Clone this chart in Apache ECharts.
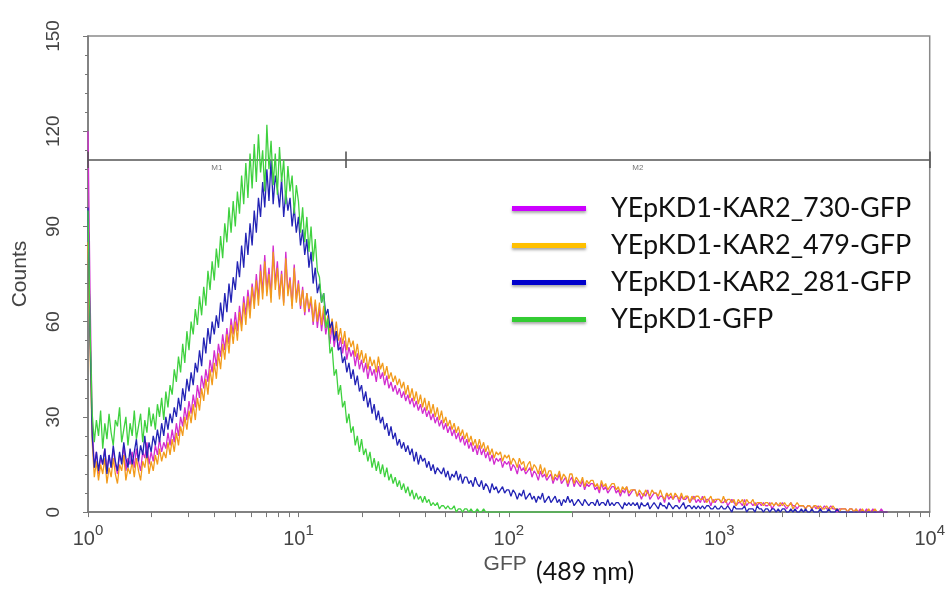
<!DOCTYPE html>
<html>
<head>
<meta charset="utf-8">
<title>GFP histogram</title>
<script src="https://cdn.jsdelivr.net/npm/echarts@6/dist/echarts.min.js"></script>
<style>
  html, body { margin: 0; padding: 0; background: #fff; }
  #chart { width: 948px; height: 589px; }
</style>
</head>
<body>
<div id="chart"></div>
<script>
// channels: 100 per decade, channel 0 = 10^0, channel 400 = 10^4
const CH_PER_DECADE = 100
const decades = [0, 1, 2, 3, 4]
const minorMultipliers = [2, 3, 4, 5, 6, 7, 8, 9]

const seriesNames = ['YEpKD1-KAR2_730-GFP', 'YEpKD1-KAR2_479-GFP', 'YEpKD1-KAR2_281-GFP', 'YEpKD1-GFP']

// counts per channel
const counts730 = [
  120, 68, 28, 14, 19, 12, 17, 15, 20, 13,
  18, 14, 20, 15, 12, 18, 16, 21, 13, 17,
  15, 19, 14, 20, 16, 13, 19, 17, 22, 15,
  19, 16, 21, 18, 23, 19, 22, 20, 25, 21,
  26, 22, 28, 24, 30, 27, 33, 29, 35, 31,
  37, 33, 40, 36, 43, 39, 45, 41, 48, 44,
  51, 46, 53, 49, 56, 51, 58, 53, 61, 56,
  63, 57, 65, 59, 68, 62, 70, 64, 72, 66,
  75, 67, 78, 69, 81, 70, 77, 68, 84, 72,
  79, 68, 76, 66, 82, 69, 74, 65, 78, 67,
  73, 64, 71, 62, 69, 63, 67, 59, 66, 58,
  64, 57, 63, 56, 60, 53, 59, 52, 57, 51,
  55, 50, 54, 48, 52, 49, 51, 46, 50, 45,
  48, 44, 47, 42, 46, 43, 45, 41, 46, 42,
  44, 40, 43, 39, 41, 38, 40, 37, 39, 36,
  38, 35, 37, 34, 36, 33, 35, 32, 34, 31,
  33, 30, 32, 29, 31, 28, 30, 27, 29, 26,
  28, 25, 27, 24, 26, 23, 25, 22, 24, 21,
  23, 20, 22, 19, 21, 18, 21, 18, 20, 17,
  19, 16, 18, 15, 17, 16, 17, 14, 16, 15,
  16, 13, 15, 14, 12, 15, 13, 14, 12, 13,
  14, 11, 13, 12, 10, 13, 11, 12, 10, 11,
  12, 9, 11, 10, 12, 9, 10, 11, 8, 10,
  11, 8, 10, 9, 8, 10, 7, 9, 8, 9,
  9, 7, 8, 6, 9, 7, 8, 6, 7, 8,
  8, 6, 7, 5, 7, 6, 8, 5, 6, 7,
  7, 5, 6, 4, 6, 5, 7, 4, 5, 6,
  6, 4, 5, 5, 3, 6, 4, 5, 4, 5,
  5, 3, 5, 4, 4, 5, 3, 4, 5, 3,
  4, 3, 5, 3, 4, 4, 2, 4, 3, 4,
  4, 3, 3, 4, 2, 3, 4, 3, 2, 3,
  3, 2, 4, 2, 3, 3, 2, 3, 2, 3,
  2, 3, 2, 2, 3, 1, 2, 3, 2, 2,
  3, 2, 1, 2, 3, 2, 2, 1, 2, 2,
  2, 1, 2, 2, 1, 2, 1, 2, 1, 1,
  2, 1, 1, 2, 1, 1, 0, 1, 1, 1,
  1, 0, 1, 1, 0, 1, 0, 1, 0, 0,
  1, 0, 0, 1, 0, 0, 0, 1, 0, 0,
  0
]

const counts479 = [
  85, 50, 22, 11, 16, 10, 15, 12, 17, 9,
  14, 11, 17, 12, 9, 15, 13, 18, 10, 14,
  12, 16, 11, 17, 13, 10, 16, 14, 19, 12,
  16, 13, 18, 15, 20, 16, 19, 17, 22, 18,
  23, 19, 25, 21, 27, 24, 30, 26, 32, 28,
  34, 29, 36, 32, 39, 35, 42, 37, 45, 40,
  47, 42, 50, 45, 53, 48, 56, 50, 59, 53,
  60, 54, 63, 57, 66, 59, 68, 61, 71, 64,
  73, 65, 76, 67, 79, 68, 75, 66, 82, 70,
  77, 67, 75, 65, 80, 68, 73, 64, 77, 66,
  72, 65, 70, 63, 69, 64, 68, 60, 67, 60,
  66, 59, 65, 58, 62, 56, 61, 55, 60, 54,
  58, 53, 57, 51, 55, 52, 54, 49, 53, 48,
  51, 47, 50, 45, 49, 46, 48, 44, 49, 45,
  47, 43, 46, 42, 44, 41, 43, 40, 42, 39,
  41, 37, 40, 36, 39, 35, 38, 34, 37, 33,
  36, 32, 35, 31, 34, 30, 33, 29, 32, 28,
  30, 27, 29, 26, 28, 25, 27, 24, 26, 23,
  25, 22, 24, 21, 23, 20, 23, 20, 22, 19,
  21, 18, 20, 17, 19, 18, 19, 16, 18, 17,
  18, 15, 17, 16, 14, 17, 15, 16, 13, 15,
  16, 13, 15, 14, 12, 15, 12, 14, 11, 13,
  13, 10, 12, 11, 13, 10, 12, 11, 9, 12,
  12, 9, 11, 10, 9, 11, 8, 10, 9, 10,
  10, 8, 9, 7, 10, 8, 9, 7, 8, 9,
  9, 7, 8, 6, 8, 7, 8, 6, 7, 7,
  7, 5, 7, 6, 5, 7, 6, 5, 7, 6,
  6, 5, 7, 5, 4, 6, 5, 6, 4, 6,
  5, 4, 6, 4, 5, 5, 3, 5, 4, 5,
  5, 4, 4, 5, 3, 4, 5, 3, 4, 4,
  4, 3, 5, 3, 4, 4, 3, 4, 2, 4,
  3, 4, 2, 4, 3, 3, 4, 2, 3, 3,
  3, 2, 3, 3, 2, 3, 2, 3, 2, 3,
  2, 3, 2, 2, 3, 1, 2, 3, 2, 2,
  2, 1, 2, 2, 1, 2, 2, 1, 2, 1,
  1, 2, 1, 1, 2, 1, 1, 0, 1, 1,
  1, 0, 1, 1, 0, 1, 0, 0, 1, 0,
  0, 1, 0, 0, 1, 0, 0, 0, 0, 0,
  0
]

const counts281 = [
  96, 55, 24, 14, 19, 13, 18, 15, 20, 12,
  18, 14, 21, 16, 13, 19, 15, 22, 17, 14,
  20, 15, 19, 23, 16, 21, 18, 24, 17, 22,
  19, 24, 21, 26, 22, 28, 24, 30, 26, 31,
  28, 33, 30, 36, 32, 39, 35, 42, 38, 44,
  40, 47, 44, 51, 46, 55, 50, 58, 53, 60,
  56, 62, 58, 66, 60, 69, 63, 72, 66, 74,
  70, 79, 74, 84, 77, 88, 81, 91, 84, 95,
  88, 99, 93, 104, 96, 108, 98, 111, 97, 106,
  102, 96, 105, 93, 101, 95, 99, 90, 96, 88,
  93, 84, 89, 81, 86, 77, 82, 72, 77, 69,
  72, 66, 69, 62, 64, 58, 60, 54, 57, 51,
  52, 47, 49, 44, 47, 42, 45, 40, 43, 38,
  40, 35, 38, 33, 36, 31, 34, 29, 32, 28,
  30, 26, 28, 24, 27, 23, 25, 21, 23, 20,
  22, 19, 21, 18, 20, 16, 19, 15, 18, 16,
  17, 14, 16, 13, 15, 12, 14, 13, 12, 14,
  11, 13, 10, 12, 11, 13, 10, 12, 9, 11,
  11, 9, 10, 8, 11, 9, 8, 10, 7, 9,
  8, 6, 9, 7, 8, 6, 7, 8, 6, 7,
  7, 5, 7, 6, 4, 6, 5, 7, 4, 5,
  6, 4, 5, 3, 5, 4, 6, 3, 4, 5,
  3, 4, 5, 3, 4, 2, 4, 3, 5, 3,
  4, 2, 3, 4, 3, 2, 4, 3, 2, 3,
  3, 2, 4, 2, 3, 3, 2, 4, 2, 3,
  2, 3, 3, 2, 1, 3, 2, 3, 2, 3,
  2, 3, 1, 3, 2, 2, 3, 1, 2, 3,
  2, 1, 3, 2, 2, 1, 3, 2, 1, 2,
  2, 1, 2, 3, 1, 2, 2, 1, 2, 1,
  2, 1, 2, 1, 2, 2, 1, 1, 2, 1,
  1, 2, 1, 1, 2, 1, 0, 2, 1, 1,
  1, 1, 2, 0, 1, 1, 1, 0, 2, 1,
  1, 0, 1, 1, 0, 1, 1, 0, 1, 0,
  1, 1, 0, 0, 1, 0, 1, 0, 0, 1,
  0, 1, 0, 0, 1, 0, 0, 0, 1, 0,
  0, 0, 1, 0, 0, 0, 1, 0, 0, 0,
  0, 0, 0, 0, 0, 0, 0, 0, 0, 0,
  0, 0, 0, 0, 0, 0, 0, 0, 0, 0,
  0
]

const countsGFP = [
  95, 58, 31, 22, 29, 24, 32, 20, 28, 23,
  31, 25, 21, 29, 27, 33, 22, 26, 30, 21,
  28, 24, 32, 23, 27, 31, 22, 29, 25, 33,
  27, 31, 26, 34, 30, 36, 29, 38, 33, 40,
  37, 45, 41, 49, 44, 53, 47, 57, 51, 60,
  56, 64, 59, 68, 62, 71, 65, 76, 70, 79,
  73, 83, 77, 87, 80, 91, 85, 96, 88, 98,
  90, 101, 94, 106, 97, 110, 99, 113, 102, 116,
  104, 119, 107, 114, 101, 122, 108, 117, 103, 113,
  100, 115, 104, 111, 97, 109, 101, 106, 94, 103,
  98, 88, 96, 85, 93, 82, 90, 79, 86, 76,
  74, 66, 69, 58, 61, 50, 52, 43, 45, 37,
  40, 33, 35, 28, 31, 25, 27, 21, 24, 19,
  23, 18, 20, 16, 19, 14, 17, 13, 16, 12,
  15, 11, 14, 10, 12, 9, 11, 8, 10, 7,
  9, 6, 8, 5, 7, 4, 6, 4, 5, 3,
  5, 3, 4, 2, 3, 2, 3, 1, 2, 2,
  1, 2, 1, 1, 2, 0, 1, 1, 0, 1,
  1, 0, 1, 0, 0, 1, 0, 0, 1, 0,
  0, 0, 0, 0, 0, 0, 0, 0, 0, 0,
  0, 0, 0, 0, 0, 0, 0, 0, 0, 0,
  0, 0, 0, 0, 0, 0, 0, 0, 0, 0,
  0, 0, 0, 0, 0, 0, 0, 0, 0, 0,
  0
]

// gates (GFP units) and the count level they are drawn at
const gateM1 = [1, 16.8]
const gateM2 = [16.8, 10000]
const gateLevel = 111

const toCh = (v) => CH_PER_DECADE * Math.log10(v)

const majorTicks = decades.map((d) => d * CH_PER_DECADE)
const allTicks = majorTicks.slice()
decades.slice(0, 4).forEach((d) => {
  minorMultipliers.forEach((m) => allTicks.push(toCh(m * Math.pow(10, d))))
})

const chart = echarts.init(document.getElementById('chart'))

const lineColors = ['#d22ccf', '#f29b1c', '#2323b5', '#3fd13f']
const legendColors = ['#cc00ff', '#ffc000', '#0000cc', '#33cc33']
const allCounts = [counts730, counts479, counts281, countsGFP]

function gateLine(gate, name) {
  const a = toCh(gate[0])
  const b = toCh(gate[1])
  return [
    [{ coord: [a, gateLevel], name: name }, { coord: [b, gateLevel] }],
    [{ coord: [b, gateLevel - 2.6], label: { show: false } }, { coord: [b, gateLevel + 2.6] }]
  ]
}

// drawing order: yellow, magenta, blue, green on top
const drawOrder = [1, 0, 2, 3]
const series = drawOrder.map((k) => ({
  name: seriesNames[k],
  type: 'line',
  data: allCounts[k].map((y, i) => [i, y]),
  symbol: 'none',
  lineStyle: { width: 1.3, color: lineColors[k] },
  itemStyle: { color: lineColors[k] },
  z: 2 + k
}))

// gate markers
series.push({
  name: 'gates',
  type: 'line',
  data: [],
  silent: true,
  markLine: {
    symbol: ['none', 'none'],
    silent: true,
    lineStyle: { color: '#555', width: 1.6, type: 'solid' },
    label: {
      show: true,
      position: 'insideMiddleBottom',
      formatter: '{b}',
      fontSize: 8,
      color: '#777',
      distance: 4
    },
    data: [
      ...gateLine(gateM1, 'M1'),
      ...gateLine(gateM2, 'M2'),
      [{ coord: [toCh(gateM1[0]), gateLevel - 2.6], label: { show: false } }, { coord: [toCh(gateM1[0]), gateLevel + 2.6] }]
    ]
  },
  z: 10
})

const option = {
  animation: false,
  backgroundColor: '#fff',
  grid: {
    left: 88,
    right: 18,
    top: 36,
    bottom: 76,
    show: true,
    borderColor: '#8a8a8a',
    borderWidth: 1.5
  },
  legend: {
    orient: 'vertical',
    left: 507,
    top: 190,
    icon: 'rect',
    itemWidth: 74,
    itemHeight: 5,
    itemGap: 10,
    data: seriesNames.map((n, k) => ({
      name: n,
      itemStyle: {
        color: legendColors[k],
        shadowColor: 'rgba(0,0,0,0.35)',
        shadowBlur: 3,
        shadowOffsetY: 2
      }
    })),
    textStyle: {
      fontFamily: 'Lato',
      fontSize: 27,
      color: '#111',
      lineHeight: 27,
      padding: [0, 0, 0, 20]
    }
  },
  xAxis: {
    type: 'value',
    min: 0,
    max: 400,
    name: '{g|GFP} {u|(489 ηm)}',
    nameLocation: 'middle',
    nameGap: 37,
    nameTextStyle: {
      padding: [0, 0, 0, 100],
      rich: {
        g: { fontFamily: 'Liberation Sans', fontSize: 21, color: '#555', padding: [0, 6, 14, 0] },
        u: { fontFamily: 'Lato', fontSize: 25, color: '#111' }
      }
    },
    splitLine: { show: false },
    axisLine: { lineStyle: { color: '#777', width: 1.5 } },
    axisTick: { show: true, length: 5, customValues: allTicks, lineStyle: { color: '#777' } },
    axisLabel: {
      customValues: majorTicks,
      margin: 11,
      formatter: (v) => '{b|10}{s|' + Math.round(v / CH_PER_DECADE) + '}',
      rich: {
        b: { fontFamily: 'Liberation Sans', fontSize: 20, color: '#444', lineHeight: 26, verticalAlign: 'bottom' },
        s: { fontFamily: 'Liberation Sans', fontSize: 15, color: '#444', verticalAlign: 'top', lineHeight: 26 }
      }
    }
  },
  yAxis: {
    type: 'value',
    min: 0,
    max: 150,
    interval: 30,
    offset: 7,
    name: 'Counts',
    nameLocation: 'middle',
    nameGap: 50,
    nameTextStyle: { fontFamily: 'Liberation Sans', fontSize: 21, color: '#444' },
    splitLine: { show: false },
    axisLine: { show: true, lineStyle: { color: '#777', width: 1.5 } },
    axisTick: { show: true, length: 5, lineStyle: { color: '#777' } },
    minorTick: { show: true, splitNumber: 5, length: 3, lineStyle: { color: '#777' } },
    axisLabel: {
      rotate: 90,
      margin: 18,
      fontFamily: 'Liberation Sans',
      fontSize: 19,
      color: '#444'
    }
  },
  series: series
}

chart.setOption(option)
</script>
</body>
</html>
